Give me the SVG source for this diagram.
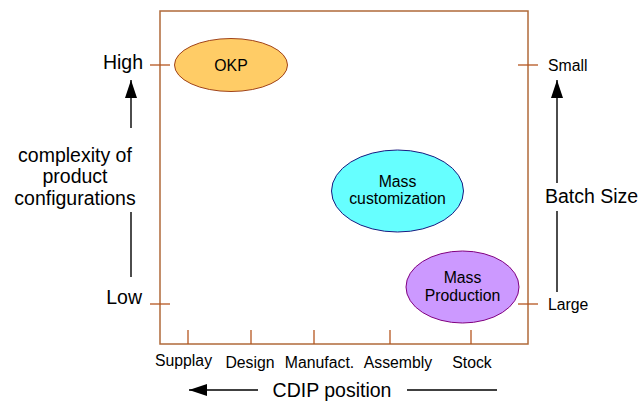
<svg xmlns="http://www.w3.org/2000/svg" width="639" height="401" viewBox="0 0 639 401">
  <defs>
    <marker id="head" viewBox="0 0 18 12" refX="18" refY="6" markerWidth="18" markerHeight="12" markerUnits="userSpaceOnUse" orient="auto">
      <path d="M0,0 L18,6 L0,12 z" fill="#000"/>
    </marker>
    <style>
      text { font-family: "Liberation Sans", Arial, sans-serif; fill: #000; }
      .frame { fill: none; stroke: #B06A3A; stroke-width: 1.5; }
      .tick { stroke: #B5561F; stroke-width: 1.3; }
      .axis { stroke: #000; stroke-width: 1.4; fill: none; }
      .big { font-size: 19.5px; }
      .mid { font-size: 15.8px; }
      .node { font-size: 15.8px; text-anchor: middle; }
    </style>
  </defs>
  <rect width="639" height="401" fill="#fff"/>

  <!-- chart frame -->
  <rect class="frame" x="160" y="11" width="368" height="333"/>

  <!-- axis ticks -->
  <g id="ticks">
    <line class="tick" x1="150" y1="65" x2="170" y2="65"/>
    <line class="tick" x1="150" y1="304" x2="170" y2="304"/>
    <line class="tick" x1="518" y1="65" x2="538" y2="65"/>
    <line class="tick" x1="518" y1="304" x2="538" y2="304"/>
    <line class="tick" x1="188" y1="330" x2="188" y2="344"/>
    <line class="tick" x1="251" y1="330" x2="251" y2="344"/>
    <line class="tick" x1="314" y1="330" x2="314" y2="344"/>
    <line class="tick" x1="390" y1="330" x2="390" y2="344"/>
    <line class="tick" x1="471" y1="330" x2="471" y2="344"/>
  </g>

  <!-- left axis labels -->
  <g id="left-axis">
    <text class="big" x="143" y="69" text-anchor="end">High</text>
    <text class="big" x="142" y="304" text-anchor="end">Low</text>
    <text class="big" x="75" y="162" text-anchor="middle">complexity of</text>
    <text class="big" x="75" y="183" text-anchor="middle">product</text>
    <text class="big" x="75" y="205" text-anchor="middle">configurations</text>
  </g>

  <!-- right axis labels -->
  <g id="right-axis">
    <text class="mid" x="548" y="71">Small</text>
    <text class="mid" x="548" y="310">Large</text>
    <text class="big" x="545" y="203">Batch Size</text>
  </g>

  <!-- bottom axis labels -->
  <g id="bottom-axis">
    <text class="node" x="183.5" y="366">Supplay</text>
    <text class="node" x="250" y="368">Design</text>
    <text class="node" x="319.5" y="368">Manufact.</text>
    <text class="node" x="398" y="368">Assembly</text>
    <text class="node" x="472" y="368">Stock</text>
    <text class="big" x="332" y="397" text-anchor="middle">CDIP position</text>
  </g>

  <!-- connectors -->
  <g id="connectors">
    <line class="axis" x1="131" y1="128" x2="131" y2="80" marker-end="url(#head)"/>
    <line class="axis" x1="131" y1="212" x2="131" y2="277"/>
    <line class="axis" x1="557" y1="183" x2="557" y2="80" marker-end="url(#head)"/>
    <line class="axis" x1="557" y1="211" x2="557" y2="292"/>
    <line class="axis" x1="258" y1="390" x2="189" y2="390" marker-end="url(#head)"/>
    <line class="axis" x1="407" y1="390" x2="497" y2="390"/>
  </g>

  <!-- nodes -->
  <g id="okp">
    <ellipse cx="231" cy="65" rx="56.5" ry="26.5" fill="#FFCC66" stroke="#A0431A" stroke-width="1"/>
    <text class="node" x="231" y="70.5">OKP</text>
  </g>
  <g id="mass-customization">
    <ellipse cx="397.5" cy="191" rx="66" ry="41" fill="#66FFFF" stroke="#1A1A80" stroke-width="1"/>
    <text class="node" x="397.5" y="186.5">Mass</text>
    <text class="node" x="397.5" y="203.5">customization</text>
  </g>
  <g id="mass-production">
    <ellipse cx="462.5" cy="287" rx="56.5" ry="36" fill="#CC99FF" stroke="#800080" stroke-width="1"/>
    <text class="node" x="462.5" y="282.5">Mass</text>
    <text class="node" x="462.5" y="300.5">Production</text>
  </g>
</svg>
